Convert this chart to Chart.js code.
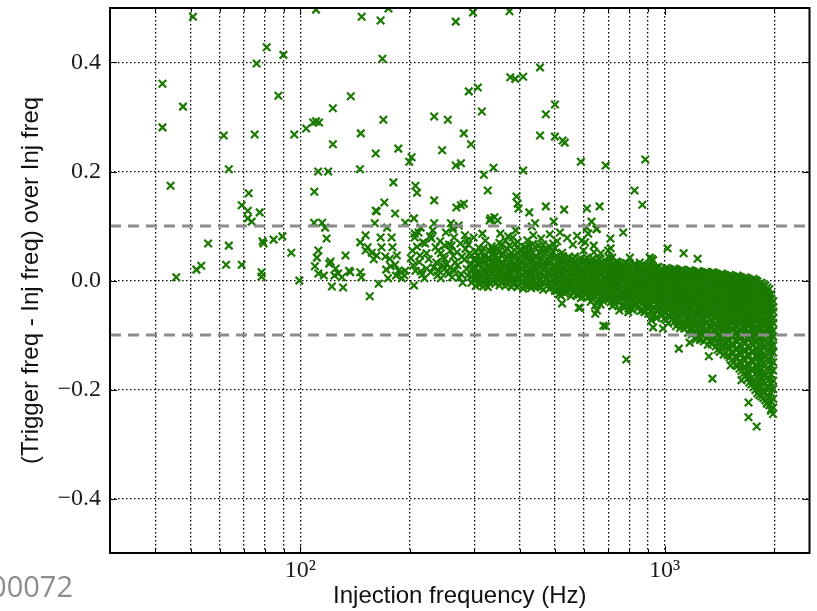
<!DOCTYPE html>
<html>
<head>
<meta charset="utf-8">
<script src="https://cdn.jsdelivr.net/npm/chart.js@4.4.1/dist/chart.umd.min.js"></script>
<style>
  html, body { margin: 0; padding: 0; background: #fff; overflow: hidden; }
  #c { display: block; }
</style>
</head>
<body>
<canvas id="c" width="817" height="611"></canvas>
<script>
// Axis ranges and ticks
const xRange = [30, 2500];
const yRange = [-0.5, 0.5];
const xTickValues = [40, 50, 60, 70, 80, 90, 100, 200, 300, 400, 500, 600, 700, 800, 900, 1000, 2000];
const xLabelValues = [100, 1000];
const xLabelText = ['10²', '10³'];
const yTickValues = [-0.4, -0.2, 0, 0.2, 0.4];
const yTickLabels = ['−0.4', '−0.2', '0.0', '0.2', '0.4'];
const thresholds = [0.1, -0.1];
const pageLabel = '00072';

// Sparse injections below 100 Hz: [injection freq (Hz), relative offset]
const sparseLow = [
  [41.8, .361], [41.8, .281], [44, .174], [45.6, .006], [47.6, .319], [50.7, .484], [51.8, .02],
  [53.4, .027], [55.8, .068], [61.6, .266], [62.5, .029], [63.6, .204], [63.6, .064], [69, .138],
  [69, .029], [71.7, .128], [72.1, .16], [71.7, .114], [73.5, .108], [74.9, .268], [75.8, .398],
  [77.3, .125], [78.7, .072], [79.2, .068], [78.2, .015], [78.2, .007], [80.8, .428], [84.4, .075],
  [87, .339], [89.2, .081], [89.8, .414], [94.4, .051], [96.2, .268], [99.3, 0]
];

// Injections between 100 and 300 Hz
const sparseMid = [
  [110.4, .497], [147.3, .484], [166, .477], [174.5, .499], [168, .407], [122.8, .316], [137.5, .338],
  [169, .295], [233, .301], [254, .295], [103.7, .279], [108.4, .29], [110.4, .292], [112.5, .29],
  [122.8, .25], [146.5, .27], [161, .233], [185.7, .242], [202, .226], [199, .218], [245, .239],
  [111.9, .2], [119.2, .2], [145.7, .204], [109.2, .163], [180, .18], [207, .174], [209, .161],
  [233, .147], [170, .143], [161, .128], [182, .123], [276, .138], [281, .141], [268, .134],
  [109, .106], [114.7, .106], [116.9, .097], [118, .077], [112, .055], [111, .042], [109.6, .026],
  [112, .013], [116, .009], [121, .035], [120, .031], [125, .022], [127, .013], [124, .009], [130, .006],
  [122, -.011], [131, -.013], [133, .046], [136, .018], [137, .015], [146, .07], [151, .083], [146, .015],
  [147, .006], [153, .061], [151, .055], [157, .051], [159, .039], [162, .046], [164, -.006], [155, -.029],
  [162, .127], [160, .105], [173, .097], [166, .079], [178, .079], [167, .061], [179, .061], [171, .044],
  [176, .04], [184, .046], [172, .02], [177, .026], [182, .029], [186, .018], [189, .015], [194, .018],
  [193, .009], [183, .009], [190, .004], [174, .004], [194, .106], [205, .114], [206, .079], [203, .055],
  [206, .086], [211, .088], [214, .097], [217, .07], [222, .05], [213, .046], [207, .018], [214, .017],
  [222, .022], [228, .015], [219, .004], [205, -.009], [231, .092], [233, .105], [229, .077], [239, .055],
  [249, .064], [243, .05], [249, .04], [258, .055], [260, .064], [236, .033], [240, .018], [249, .022],
  [258, .024], [265, .018], [243, .004], [261, .006], [259, .105], [272, .101], [262, .097], [262, .094],
  [252, .03], [263, .045], [270, .028], [276, .012], [282, .038], [284, .058], [279, -.004], [286, .021],
  [245, .028], [255, .012], [267, .211], [276, .215], [281, .27], [294, .25], [290, .347], [267, .475],
  [201, .041], [204, .028], [209, .062], [212, .034], [216, .011], [220, .068], [225, .039], [227, .081],
  [232, .024], [235, .061], [238, .009], [242, .072], [246, .043], [251, .088], [253, .017], [256, .066],
  [264, .079], [266, .033], [269, .052], [273, .005], [275, .068], [278, .044], [283, .083], [288, .009],
  [291, .049], [293, .031], [289, .066]
];

// Scattered injections above the main band, 300 Hz and up
const upperScatter = [
  [297.8, .492], [307, .354], [375, .494], [455, .391], [377, .373], [389, .37], [409, .374], [315, .31],
  [500, .323], [472, .305], [455, .266], [500, .264], [525, .257], [532, .253], [319, .194], [339, .207],
  [409, .202], [589, .218], [689, .211], [885, .222], [327, .165], [392, .154], [395, .141], [397, .132],
  [425, .125], [472, .136], [530, .13], [612, .132], [663, .136], [827, .165], [869, .139], [333, .114],
  [348, .11], [331, .11], [341, .116], [441, .105], [496, .108], [516, .088], [494, .068], [611, .097],
  [630, .108], [652, .095], [299, .079], [287, .073], [322, .073], [316, .086], [354, .086], [366, .073],
  [383, .079], [390, .092], [425, .064], [450, .064], [405, .055], [523, .051], [592, .073], [599, .055],
  [639, .064], [668, .05], [432, .099], [617, .086], [650, .094], [710, .077], [770, .088], [700, .055],
  [711, .059], [705, .042], [718, .042], [803, .042], [922, .04], [910, .042], [930, .037], [1019, .059],
  [1128, .05], [1232, .04], [855, .033], [1107, .018], [1180, .017], [1240, .017], [1353, .015],
  [1470, .009], [1780, 0], [309, .06], [337, .058], [358, .066], [372, .081], [395, .071], [415, .06],
  [436, .083], [458, .077], [470, .058], [484, .085], [507, .072], [540, .078], [560, .066], [575, .082],
  [605, .07], [640, .052]
];

// Scattered injections below the main band
const lowerScatter = [
  [318, -.011], [523, -.042], [581, -.05], [644, -.046], [652, -.055], [679, -.083], [661, -.037],
  [586, -.05], [645, -.061], [690, -.084], [751, -.055], [795, -.058], [920, -.073], [930, -.086],
  [990, -.088], [1094, -.125], [1172, -.114], [1323, -.139], [1353, -.18], [1518, -.156], [1626, -.183],
  [785, -.145], [1700, -.224], [1700, -.251], [1790, -.268], [1910, -.226], [1960, -.239], [1985, -.245]
];

// Main band, grouped by injection frequency: [freq, [offsets...]]
const band300to500 = [
  [295, [.046, .029, .021, .007, -.004]],
  [299, [.038, .025, .012, .001]],
  [303, [.053, .037, .022, .013, .001, -.01]],
  [307, [.045, .03, .017, .006, -.005]],
  [311, [.04, .03, .014, .005, -.007]],
  [314, [.051, .036, .024, .008]],
  [318, [.059, .044, .034, .02, .01, -.002]],
  [322, [.047, .031, .013, .001, -.008]],
  [327, [.038, .028, .017, .003, -.012]],
  [331, [.054, .04, .026, .008, -.004]],
  [335, [.063, .048, .033, .023, .012, .002]],
  [339, [.052, .037, .025, .013, -.001]],
  [343, [.044, .029, .018, .008, -.006]],
  [347, [.058, .036, .023, .013, .002]],
  [352, [.069, .055, .039, .025, .015, .004, -.009]],
  [356, [.047, .032, .018, .006, -.004]],
  [361, [.049, .031, .022, .009, -.002]],
  [365, [.054, .04, .027, .013, .003, -.01]],
  [370, [.058, .043, .028, .018, .005, -.007]],
  [375, [.064, .046, .033, .021, .009, -.002]],
  [380, [.051, .038, .024, .013, .002, -.012]],
  [384, [.044, .029, .018, .005, -.007]],
  [389, [.067, .046, .03, .02, .007, -.004]],
  [394, [.061, .051, .035, .024, .011, .001, -.012]],
  [399, [.056, .041, .026, .016, .003, -.009]],
  [404, [.045, .033, .021, .009, -.004]],
  [409, [.05, .034, .023, .01, -.001, -.015]],
  [414, [.062, .043, .029, .015, .005, -.008]],
  [420, [.074, .054, .042, .027, .017, .004, -.007]],
  [425, [.053, .039, .024, .013, .002, -.01]],
  [430, [.045, .034, .019, .01, -.003, -.014]],
  [435, [.067, .051, .038, .025, .014, .003, -.009]],
  [441, [.061, .044, .031, .017, .008, -.006]],
  [447, [.043, .03, .021, .004, -.009]],
  [453, [.051, .035, .025, .011, 0, -.011]],
  [458, [.058, .041, .028, .015, .003, -.013]],
  [464, [.066, .046, .031, .02, .007, -.003, -.017]],
  [470, [.049, .035, .022, .009, -.006]],
  [476, [.056, .038, .027, .013, .004, -.01]],
  [482, [.063, .044, .031, .017, .008, -.004, -.015]],
  [488, [.047, .035, .02, .011, -.002, -.013]],
  [494, [.052, .039, .026, .013, .002, -.011]],
  [500, [.059, .043, .028, .018, .005, -.006, -.019]]
];

const band500to850 = [
  [507, [.044, .032, .022, .012, .001, -.008, -.019]],
  [513, [.039, .026, .018, .006, -.003, -.012, -.025]],
  [519, [.041, .031, .021, .011, .002, -.007, -.017, -.028]],
  [526, [.045, .034, .021, .013, .001, -.009, -.018]],
  [532, [.036, .024, .013, .004, -.008, -.016, -.024]],
  [539, [.041, .028, .019, .007, -.002, -.013, -.021]],
  [546, [.043, .032, .024, .012, .002, -.009, -.018]],
  [553, [.036, .026, .014, .006, -.006, -.015, -.029]],
  [560, [.04, .03, .02, .011, -.001, -.011, -.022]],
  [567, [.044, .031, .022, .01, .002, -.01, -.02]],
  [574, [.034, .025, .013, .005, -.008, -.016, -.026]],
  [582, [.038, .029, .016, .008, -.004, -.013, -.026]],
  [589, [.041, .033, .021, .011, .002, -.009, -.02, -.032]],
  [596, [.035, .023, .015, .003, -.006, -.018, -.03]],
  [604, [.038, .027, .019, .006, -.004, -.013, -.026]],
  [612, [.042, .031, .018, .01, -.002, -.011, -.023]],
  [619, [.034, .022, .012, .001, -.01, -.02, -.03]],
  [627, [.037, .025, .016, .004, -.005, -.016, -.025, -.039]],
  [635, [.04, .029, .019, .008, -.002, -.012, -.021, -.034]],
  [643, [.033, .024, .012, .003, -.008, -.017, -.03]],
  [651, [.036, .027, .017, .008, -.004, -.012, -.025, -.041]],
  [659, [.04, .027, .018, .006, -.003, -.014, -.023, -.036]],
  [667, [.031, .022, .011, .001, -.009, -.019, -.031, -.044]],
  [676, [.034, .025, .013, .005, -.007, -.015, -.028, -.037]],
  [684, [.037, .029, .018, .008, -.003, -.011, -.022, -.033]],
  [693, [.031, .02, .012, 0, -.009, -.02, -.029]],
  [702, [.033, .023, .016, .003, -.012, -.024, -.034]],
  [711, [.036, .026, .014, .006, -.006, -.014, -.027, -.04]],
  [720, [.029, .017, .008, -.003, -.016, -.025, -.036, -.047]],
  [729, [.03, .021, .009, .001, -.011, -.019, -.032, -.042]],
  [738, [.035, .026, .018, .006, -.004, -.014, -.022, -.035]],
  [747, [.033, .022, .014, .002, -.007, -.018, -.027, -.04]],
  [756, [.03, .021, .01, .003, -.008, -.016, -.03, -.038]],
  [766, [.028, .019, .007, -.002, -.013, -.021, -.034, -.045]],
  [776, [.025, .014, .004, -.007, -.017, -.026, -.038, -.05]],
  [786, [.032, .02, .012, 0, -.009, -.02, -.029, -.042]],
  [796, [.029, .017, .007, -.005, -.015, -.025, -.037, -.052]],
  [806, [.027, .018, .006, -.003, -.014, -.022, -.035, -.047]],
  [816, [.024, .013, .002, -.008, -.018, -.028, -.04, -.054]],
  [826, [.03, .019, .011, -.001, -.01, -.022, -.031, -.045]],
  [836, [.028, .021, .009, -.007, -.019, -.029, -.041]],
  [847, [.026, .017, .005, -.004, -.015, -.023, -.036, -.05]]
];

const band850to1250 = [
  [858, [.027, .014, .004, -.007, -.018, -.027, -.039, -.056]],
  [869, [.029, .018, .01, -.002, -.01, -.022, -.03, -.043, -.054]],
  [880, [.022, .013, .005, -.008, -.013, -.029, -.035, -.047, -.058]],
  [891, [.024, .015, .003, -.005, -.017, -.025, -.038, -.048]],
  [902, [.026, .01, .001, -.01, -.021, -.03, -.042, -.052, -.061]],
  [914, [.027, .016, .008, -.004, -.012, -.024, -.032, -.045, -.057]],
  [925, [.02, .011, .004, -.009, -.016, -.031, -.036, -.054, -.066]],
  [937, [.022, .013, .001, -.007, -.019, -.027, -.039, -.049, -.063]],
  [949, [.024, .018, .007, -.003, -.012, -.023, -.035, -.043, -.055, -.069]],
  [961, [.025, .014, .006, -.006, -.014, -.026, -.034, -.047, -.056]],
  [973, [.019, .009, -.004, -.013, -.024, -.033, -.045, -.06]],
  [985, [.021, .012, 0, -.008, -.02, -.028, -.04, -.051, -.064]],
  [998, [.017, .007, -.003, -.012, -.023, -.033, -.044, -.056, -.07]],
  [1010, [.023, .012, .004, -.008, -.016, -.028, -.036, -.049, -.059, -.073]],
  [1023, [.021, .016, .006, -.005, -.013, -.025, -.034, -.046, -.055, -.064, -.079]],
  [1036, [.019, .01, -.002, -.01, -.022, -.03, -.042, -.051, -.067]],
  [1049, [.015, .006, -.005, -.014, -.026, -.035, -.046, -.057, -.071]],
  [1062, [.022, .011, .003, -.009, -.017, -.029, -.037, -.05, -.06, -.076]],
  [1075, [.02, .014, .005, -.006, -.015, -.026, -.035, -.047, -.058, -.071, -.084]],
  [1089, [.018, .009, -.003, -.011, -.023, -.031, -.043, -.052, -.066, -.077]],
  [1103, [.016, .004, -.007, -.016, -.027, -.036, -.048, -.058, -.072, -.087]],
  [1117, [.02, .009, .001, -.011, -.019, -.031, -.039, -.052, -.062, -.081]],
  [1131, [.018, .013, .004, -.008, -.016, -.028, -.037, -.049, -.059, -.075, -.088]],
  [1145, [.016, .007, -.005, -.013, -.025, -.033, -.045, -.054, -.068, -.082]],
  [1160, [.014, .003, -.009, -.017, -.029, -.038, -.05, -.06, -.073, -.085, -.096]],
  [1174, [.019, .008, 0, -.012, -.02, -.032, -.04, -.053, -.063, -.078, -.09]],
  [1189, [.017, .012, .003, -.009, -.017, -.029, -.038, -.051, -.06, -.074, -.086, -.099]],
  [1204, [.015, .006, -.006, -.014, -.026, -.034, -.046, -.055, -.069, -.08, -.095]],
  [1219, [.013, .002, -.01, -.018, -.03, -.039, -.051, -.061, -.073, -.084, -.097, -.108]],
  [1234, [.017, .006, -.002, -.014, -.022, -.034, -.042, -.054, -.063, -.077, -.088, -.102]]
];

const band1250to1500 = [
  [1250, [.014, .01, .001, -.011, -.019, -.031, -.039, -.05, -.06, -.071, -.083, -.094, -.109]],
  [1266, [.013, .004, -.008, -.016, -.028, -.036, -.048, -.057, -.071, -.082, -.098]],
  [1282, [.011, .001, -.011, -.02, -.031, -.04, -.051, -.061, -.074, -.085, -.096, -.112]],
  [1298, [.016, .005, -.003, -.015, -.023, -.035, -.043, -.055, -.064, -.078, -.089, -.105]],
  [1314, [.015, .008, -.004, -.013, -.023, -.032, -.044, -.053, -.066, -.077, -.092, -.104, -.118]],
  [1331, [.012, .003, -.009, -.017, -.029, -.037, -.049, -.058, -.072, -.083, -.099, -.111]],
  [1348, [.01, -.001, -.013, -.022, -.033, -.042, -.053, -.063, -.076, -.088, -.103, -.117]],
  [1365, [.014, .003, -.005, -.017, -.025, -.037, -.045, -.057, -.066, -.08, -.091, -.107]],
  [1382, [.013, .006, -.005, -.014, -.024, -.033, -.044, -.054, -.067, -.078, -.093, -.105, -.121]],
  [1399, [.011, .002, -.01, -.018, -.03, -.038, -.05, -.059, -.073, -.084, -.1, -.113, -.127]],
  [1417, [.008, -.003, -.014, -.023, -.034, -.043, -.054, -.064, -.076, -.089, -.104, -.117, -.131]],
  [1435, [.013, .002, -.006, -.018, -.026, -.038, -.046, -.058, -.067, -.081, -.092, -.108, -.12]],
  [1453, [.011, .005, -.004, -.015, -.023, -.034, -.043, -.055, -.066, -.078, -.09, -.105, -.12, -.136]],
  [1471, [.009, 0, -.012, -.02, -.032, -.04, -.052, -.061, -.075, -.086, -.102, -.115, -.133]],
  [1490, [.006, -.006, -.016, -.025, -.036, -.045, -.056, -.066, -.079, -.091, -.107, -.121, -.137]]
];

const band1500to2000 = [
  [1509, [.01, -.001, -.009, -.021, -.029, -.041, -.049, -.061, -.07, -.084, -.095, -.111, -.124, -.141]],
  [1528, [.008, .003, -.006, -.016, -.025, -.035, -.045, -.055, -.066, -.078, -.09, -.103, -.117, -.132, -.146]],
  [1547, [.007, -.004, -.012, -.024, -.032, -.044, -.052, -.065, -.075, -.09, -.102, -.119, -.133, -.15]],
  [1566, [.004, -.008, -.018, -.028, -.038, -.048, -.058, -.069, -.081, -.095, -.109, -.126, -.141, -.155]],
  [1586, [.009, -.002, -.01, -.022, -.03, -.042, -.05, -.062, -.071, -.085, -.096, -.112, -.125, -.143, -.157]],
  [1606, [.007, .001, -.008, -.018, -.028, -.038, -.047, -.058, -.068, -.08, -.091, -.107, -.118, -.131, -.148, -.162]],
  [1627, [.005, -.006, -.014, -.026, -.034, -.046, -.054, -.067, -.077, -.092, -.104, -.121, -.135, -.153, -.166]],
  [1647, [.003, -.01, -.02, -.03, -.04, -.05, -.06, -.071, -.083, -.097, -.111, -.128, -.143, -.159, -.171]],
  [1668, [.006, -.005, -.013, -.025, -.033, -.045, -.053, -.065, -.074, -.088, -.099, -.115, -.128, -.146, -.16, -.175]],
  [1689, [.004, -.002, -.011, -.021, -.031, -.041, -.051, -.061, -.072, -.083, -.094, -.107, -.121, -.137, -.153, -.168, -.181]],
  [1710, [.002, -.009, -.017, -.029, -.037, -.049, -.057, -.07, -.08, -.095, -.107, -.124, -.138, -.157, -.171, -.187]],
  [1732, [0, -.013, -.023, -.033, -.043, -.053, -.063, -.075, -.087, -.1, -.113, -.13, -.147, -.164, -.179, -.191]],
  [1754, [.003, -.008, -.016, -.028, -.036, -.048, -.056, -.068, -.077, -.091, -.102, -.118, -.131, -.149, -.164, -.182, -.196]],
  [1776, [.001, -.004, -.012, -.024, -.032, -.045, -.052, -.064, -.073, -.088, -.097, -.112, -.124, -.138, -.155, -.171, -.188, -.201]],
  [1798, [-.002, -.013, -.021, -.033, -.041, -.053, -.061, -.074, -.084, -.099, -.111, -.128, -.142, -.161, -.176, -.194, -.207]],
  [1821, [-.006, -.018, -.028, -.038, -.048, -.058, -.068, -.08, -.092, -.106, -.12, -.136, -.152, -.169, -.186, -.202, -.21]],
  [1844, [-.004, -.015, -.023, -.035, -.043, -.055, -.063, -.076, -.086, -.101, -.113, -.13, -.144, -.163, -.178, -.197, -.213]],
  [1867, [-.007, -.012, -.019, -.03, -.038, -.05, -.058, -.072, -.08, -.095, -.105, -.121, -.135, -.153, -.168, -.186, -.204, -.216]],
  [1891, [-.009, -.02, -.028, -.04, -.048, -.06, -.069, -.083, -.094, -.11, -.123, -.141, -.156, -.175, -.189, -.206, -.22]],
  [1915, [-.013, -.023, -.032, -.043, -.052, -.063, -.073, -.086, -.097, -.113, -.127, -.144, -.16, -.178, -.193, -.21, -.224]],
  [1939, [-.016, -.027, -.035, -.047, -.055, -.067, -.076, -.09, -.101, -.117, -.13, -.148, -.163, -.182, -.197, -.215, -.229]],
  [1963, [-.025, -.033, -.042, -.052, -.062, -.072, -.084, -.096, -.11, -.124, -.14, -.156, -.173, -.19, -.207, -.222, -.236]],
  [1988, [-.038, -.049, -.057, -.069, -.078, -.092, -.103, -.119, -.132, -.15, -.165, -.184, -.199, -.217, -.233]]
];

// Build the scatter points
const points = [];
[sparseLow, sparseMid, upperScatter, lowerScatter].forEach(list =>
  list.forEach(([f, r]) => points.push({ x: f, y: r })));
[band300to500, band500to850, band850to1250, band1250to1500, band1500to2000].forEach(cols =>
  cols.forEach(([f, rs]) => rs.forEach(r => points.push({ x: f, y: r }))));

const markerColor = 'rgb(26,122,0)';
const serif = '"Liberation Serif", "Times New Roman", serif';
const sans = '"Liberation Sans", Arial, sans-serif';

// Frame, inward tick marks and the page number
const framePlugin = {
  id: 'frame',
  afterDraw(chart) {
    const { ctx, chartArea: a, scales: { x, y } } = chart;
    ctx.save();
    ctx.strokeStyle = '#000';
    ctx.lineWidth = 1;
    const seg = (x1, y1, x2, y2) => { ctx.beginPath(); ctx.moveTo(x1, y1); ctx.lineTo(x2, y2); ctx.stroke(); };
    xTickValues.forEach(v => {
      const px = Math.round(x.getPixelForValue(v)) + 0.5;
      const len = xLabelValues.includes(v) ? 7 : 4;
      seg(px, a.bottom, px, a.bottom - len);
      seg(px, a.top, px, a.top + len);
    });
    yTickValues.forEach(v => {
      const py = Math.round(y.getPixelForValue(v)) + 0.5;
      seg(a.left, py, a.left + 7, py);
      seg(a.right, py, a.right - 7, py);
    });
    ctx.lineWidth = 2;
    ctx.strokeRect(a.left, a.top, a.right - a.left, a.bottom - a.top);
    ctx.font = '29px "Open Sans", sans-serif';
    ctx.fillStyle = '#8c8c8c';
    ctx.textAlign = 'right';
    ctx.textBaseline = 'alphabetic';
    ctx.fillText(pageLabel, 73, 597);
    ctx.restore();
  }
};

new Chart(document.getElementById('c'), {
  type: 'scatter',
  data: {
    datasets: [
      ...thresholds.map(t => ({
        data: xRange.map(v => ({ x: v, y: t })),
        showLine: true,
        pointRadius: 0,
        borderColor: '#8c8c8c',
        borderWidth: 3,
        borderDash: [11, 7],
        order: 0
      })),
      {
        data: points,
        showLine: false,
        pointStyle: 'crossRot',
        pointRadius: 5.3,
        pointBorderWidth: 2.2,
        pointBorderColor: markerColor,
        pointBackgroundColor: markerColor,
        order: 1
      }
    ]
  },
  options: {
    animation: false,
    responsive: false,
    devicePixelRatio: 1,
    events: [],
    layout: { padding: { top: 8, right: 3, bottom: 0, left: 0 } },
    plugins: { legend: { display: false }, tooltip: { enabled: false } },
    scales: {
      x: {
        type: 'logarithmic',
        min: xRange[0],
        max: xRange[1],
        afterBuildTicks: s => { s.ticks = xTickValues.map(v => ({ value: v })); },
        afterFit: s => { s.height = 58; s.paddingLeft = 0; s.paddingRight = 0; },
        grid: { color: '#000', lineWidth: 1.3, drawTicks: false },
        border: { display: false, dash: [1.5, 2.5] },
        ticks: {
          autoSkip: false, maxRotation: 0, minRotation: 0, padding: 3,
          color: '#1a1a1a', font: { family: serif, size: 24 },
          callback: v => { const i = xLabelValues.indexOf(v); return i < 0 ? '' : xLabelText[i]; }
        },
        title: {
          display: true, text: 'Injection frequency (Hz)', color: '#111',
          font: { family: sans, size: 24 }, padding: { top: 0, bottom: 0 }
        }
      },
      y: {
        min: yRange[0],
        max: yRange[1],
        afterBuildTicks: s => { s.ticks = yTickValues.map(v => ({ value: v })); },
        afterFit: s => { s.width = 110; s.paddingTop = 0; s.paddingBottom = 0; },
        grid: { color: '#000', lineWidth: 1.3, drawTicks: false },
        border: { display: false, dash: [1.5, 2.5] },
        ticks: {
          padding: 9, color: '#1a1a1a', font: { family: serif, size: 24 },
          callback: v => { const i = yTickValues.indexOf(v); return i < 0 ? '' : yTickLabels[i]; }
        },
        title: {
          display: true, text: '(Trigger freq - Inj freq) over Inj freq', color: '#111',
          font: { family: sans, size: 24 }, padding: { top: 17, bottom: 0 }
        }
      }
    }
  },
  plugins: [framePlugin]
});
</script>
</body>
</html>
